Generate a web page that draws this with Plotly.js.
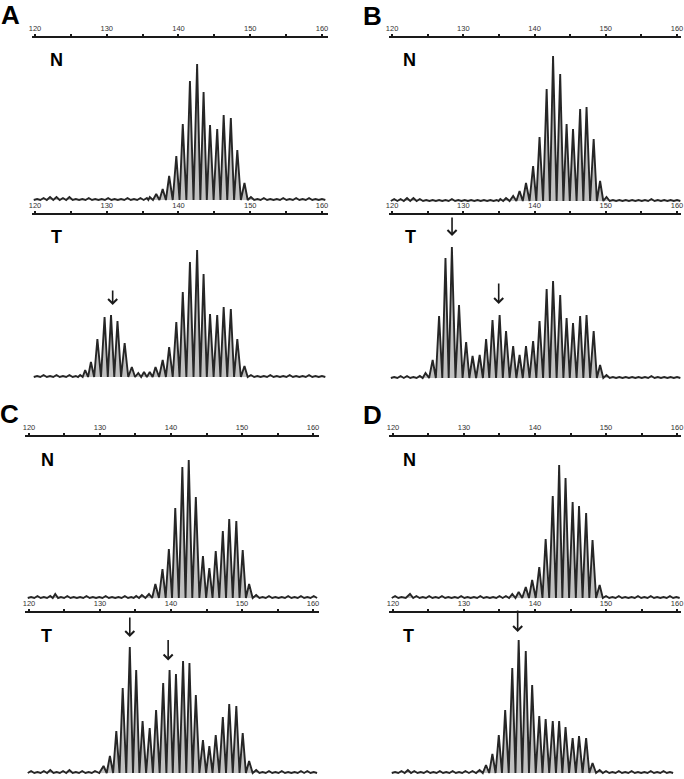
<!DOCTYPE html>
<html>
<head>
<meta charset="utf-8">
<script src="https://cdn.plot.ly/plotly-3.0.1.min.js"></script>
<style>html,body{margin:0;padding:0;background:#fff;}#chart{width:684px;height:779px;}</style>
</head>
<body>
<div id="chart"></div>
<script>
// ---- Data: peak positions (bp) and peak heights (relative fluorescence) ----
var tickVals = [120,125,130,135,140,145,150,155,160];
var tickText = ['120','','130','','140','','150','','160'];

// Panel A, normal (N)
var aN_bp = [120.3,121.2,122.1,123.0,123.9,124.8,125.7,126.6,127.5,128.4,129.3,130.2,131.1,132.0,132.9,133.8,134.7,135.6,136.0,
  136.9,137.8,138.7,139.7,140.6,141.6,142.6,143.5,144.4,145.4,146.3,147.3,148.2,149.2,150.1,
  151.0,151.9,152.8,153.7,154.6,155.5,156.4,157.3,158.2,159.1,160.0];
var aN_h  = [1,2,3,3,2,3,1,1,2,1,1,2,1,1,2,1,2,2,3,
  6,11,24,44,76,119,136,108,75,71,85,82,50,17,3,
  1,2,1,1,2,1,2,1,2,1,1];
// Panel A, tumour (T)
var aT_bp = [120.3,121.2,122.1,123.0,123.9,124.8,125.7,126.3,
  127.0,127.8,128.7,129.7,130.6,131.5,132.5,133.5,134.4,135.2,
  136.0,136.8,137.8,138.7,139.7,140.6,141.6,142.6,143.5,144.4,145.4,146.3,147.3,148.2,149.2,150.1,
  151.0,151.9,152.8,153.7,154.6,155.5,156.4,157.3,158.2,159.1,160.0];
var aT_h  = [1,2,1,2,1,2,1,2,
  7,15,38,60,62,56,34,10,4,5,
  5,10,17,30,55,85,115,127,103,63,62,70,68,38,11,2,
  1,1,2,1,1,2,1,1,2,1,1];
// Panel B, normal
var bN_bp = [120.3,121.2,122.1,123.0,123.9,124.8,125.7,126.6,127.5,128.4,129.3,130.2,131.1,132.0,132.9,133.8,134.7,135.2,
  136.0,137.0,137.9,138.8,139.8,140.7,141.7,142.6,143.6,144.5,145.4,146.4,147.3,148.3,149.2,150.1,
  151.0,151.9,152.8,153.7,154.6,155.5,156.4,157.3,158.2,159.1,160.0];
var bN_h  = [2,2,3,3,2,1,1,1,1,2,1,1,1,1,1,1,1,2,
  3,5,10,18,35,64,112,145,127,77,72,92,94,62,20,4,
  1,1,1,1,1,1,2,1,1,1,1];
// Panel B, tumour
var bT_bp = [120.3,121.2,122.1,123.0,123.9,
  124.7,125.7,126.6,127.5,128.4,129.4,130.4,131.3,132.3,133.2,134.1,135.1,136.0,137.0,137.9,138.8,139.8,
  140.7,141.7,142.6,143.6,144.5,145.4,146.4,147.3,148.3,149.2,150.1,
  151.0,151.9,152.8,153.7,154.6,155.5,156.4,157.3,158.2,159.1,160.0];
var bT_h  = [1,2,2,1,2,
  5,18,62,120,131,73,36,22,23,39,58,63,47,32,23,32,37,
  57,89,97,83,60,55,62,63,47,13,3,
  1,1,1,1,1,1,2,1,1,1,1];
// Panel C, normal
var cN_bp = [120.3,121.2,122.1,123.0,123.7,124.5,125.4,126.3,127.2,128.1,129.0,129.9,130.8,131.7,132.6,133.5,134.4,135.1,
  135.9,136.9,137.8,138.8,139.7,140.6,141.6,142.5,143.5,144.5,145.4,146.3,147.3,148.2,149.2,150.1,151.0,152.0,
  152.9,153.8,154.7,155.6,156.5,157.4,158.3,159.2,160.1];
var cN_h  = [1,2,1,2,4,1,2,1,1,2,1,1,2,1,1,2,1,2,
  3,4,14,29,49,90,131,138,101,42,30,47,67,79,77,48,14,3,
  1,2,1,1,2,1,2,1,2];
// Panel C, tumour
var cT_bp = [120.3,121.2,122.1,123.0,123.9,124.8,125.7,126.6,127.5,128.4,129.3,
  130.5,131.4,132.3,133.2,134.2,135.1,136.0,137.0,137.9,138.9,139.8,140.7,141.7,142.6,143.5,144.5,
  145.4,146.3,147.3,148.2,149.2,150.1,151.0,152.0,
  152.9,153.8,154.7,155.6,156.5,157.4,158.3,159.2,160.1];
var cT_h  = [2,1,2,3,1,2,3,1,2,1,2,
  7,17,42,85,126,103,52,45,63,90,103,99,112,110,78,33,
  27,38,56,69,67,40,12,3,
  1,2,1,2,1,1,2,2,1];
// Panel D, normal
var dN_bp = [120.3,121.2,122.4,123.3,124.2,125.1,126.0,126.9,127.8,128.7,129.6,130.5,131.4,132.3,133.2,134.1,135.0,135.9,
  136.8,137.7,138.7,139.6,140.6,141.5,142.5,143.4,144.3,145.3,146.2,147.2,148.1,149.1,150.0,
  150.9,151.8,152.7,153.6,154.5,155.4,156.3,157.2,158.1,159.0,159.9];
var dN_h  = [2,1,4,2,1,2,1,2,1,1,2,1,1,2,1,1,2,2,
  4,6,11,18,31,59,102,133,120,96,92,85,58,13,2,
  1,2,1,1,2,1,2,1,1,2,1];
// Panel D, tumour
var dT_bp = [120.3,121.2,122.1,123.0,123.9,124.8,125.7,126.6,127.5,128.4,129.3,130.2,131.2,
  132.2,133.1,134.0,134.9,135.8,136.8,137.7,138.7,139.6,140.6,141.5,142.5,143.4,144.3,145.3,146.2,147.2,148.1,149.1,
  150.0,150.9,151.8,152.7,153.6,154.5,155.4,156.3,157.2,158.1,159.0,159.9];
var dT_h  = [1,2,3,2,1,2,1,2,1,2,1,2,2,
  3,8,19,38,63,105,133,122,88,57,54,52,52,46,35,37,35,10,3,
  2,1,2,1,2,1,1,2,1,2,1];

// arrow targets (bp) on tumour traces
var arrowBp = {A:[130.83], B:[128.42,134.97], C:[134.2,139.6], D:[137.56]};

// ---- Layout geometry (pixels) ----
var W = 684, H = 779;
var panels = [
  {key:'aN', bp:aN_bp, h:aN_h, x0:32.1, x1:327.7, r:[119.6,160.8], top:38,  base:200},
  {key:'aT', bp:aT_bp, h:aT_h, x0:32.1, x1:327.7, r:[119.6,160.8], top:215, base:377},
  {key:'bN', bp:bN_bp, h:bN_h, x0:389.2, x1:681.3, r:[119.6,160.6], top:38,  base:201},
  {key:'bT', bp:bT_bp, h:bT_h, x0:389.2, x1:681.3, r:[119.6,160.6], top:215, base:378},
  {key:'cN', bp:cN_bp, h:cN_h, x0:24.7, x1:318.7, r:[119.4,160.8], top:437, base:598},
  {key:'cT', bp:cT_bp, h:cT_h, x0:24.7, x1:318.7, r:[119.4,160.8], top:613, base:773},
  {key:'dN', bp:dN_bp, h:dN_h, x0:388.7, x1:681.3, r:[119.4,160.6], top:437, base:598},
  {key:'dT', bp:dT_bp, h:dT_h, x0:388.7, x1:681.3, r:[119.4,160.6], top:613, base:773}
];

function spikes(bp, h){
  var x=[], y=[];
  x.push(bp[0]-0.47); y.push(0);
  for (var i=0;i<bp.length;i++){
    x.push(bp[i]); y.push(h[i]);
    var nx = (i<bp.length-1) ? (bp[i]+bp[i+1])/2 : bp[i]+0.47;
    x.push(nx); y.push(0);
  }
  return {x:x, y:y};
}

var data = [];
var layout = {
  width: W, height: H,
  margin: {l:0, r:0, t:0, b:0},
  paper_bgcolor: '#fff', plot_bgcolor: 'rgba(0,0,0,0)',
  showlegend: false,
  annotations: []
};

panels.forEach(function(p, i){
  var n = i+1, sfx = (n===1?'':n);
  var s = spikes(p.bp, p.h);
  data.push({
    type:'scatter', mode:'lines', x:s.x, y:s.y,
    xaxis:'x'+sfx, yaxis:'y'+sfx,
    fill:'tozeroy', fillcolor:'rgba(140,140,140,0.55)',
    line:{color:'#262626', width:1.9, shape:'linear'},
    hoverinfo:'skip'
  });
  var pad = 3;
  layout['xaxis'+sfx] = {
    domain:[p.x0/W, p.x1/W], range:p.r, anchor:'y'+sfx, side:'top',
    showline:true, linecolor:'#1a1a1a', linewidth:2.4,
    showgrid:false, zeroline:false,
    tickmode:'array', tickvals:tickVals, ticktext:tickText,
    ticks:'outside', ticklen:2, tickwidth:2, tickcolor:'#1a1a1a',
    tickfont:{family:'Liberation Sans, Arial, sans-serif', size:7.5, color:'#333'},
    ticklabelstandoff: 0,
    fixedrange:true
  };
  layout['yaxis'+sfx] = {
    domain:[1-(p.base+pad)/H, 1-p.top/H], range:[-pad, (p.base-p.top)],
    anchor:'x'+sfx, visible:false, fixedrange:true
  };
});

// Panel letters
var letters = [['A',10,15],['B',373,16],['C',9,414],['D',373,415]];
letters.forEach(function(l){
  layout.annotations.push({text:'<b>'+l[0]+'</b>', xref:'paper', yref:'paper',
    x:l[1]/W, y:1-l[2]/H, xanchor:'center', yanchor:'middle', showarrow:false,
    font:{family:'Liberation Sans, Arial, sans-serif', size:26, color:'#000'}});
});
// N / T labels
var nt = [['N',56,60],['T',56,237],['N',409.5,60],['T',410,237],['N',47,460],['T',46,636],['N',409,460],['T',408.5,636]];
nt.forEach(function(l){
  layout.annotations.push({text:'<b>'+l[0]+'</b>', xref:'paper', yref:'paper',
    x:l[1]/W, y:1-l[2]/H, xanchor:'center', yanchor:'middle', showarrow:false,
    font:{family:'Liberation Sans, Arial, sans-serif', size:18, color:'#000'}});
});
// Arrows: [bp, xaxis, head pixel y, tail offset]
var arrows = [
  [arrowBp.A[0], 'x2', 305, -16],
  [arrowBp.B[0], 'x4', 236, -20],
  [arrowBp.B[1], 'x4', 304, -22],
  [arrowBp.C[0], 'x6', 637, -21],
  [arrowBp.C[1], 'x6', 660.5, -22],
  [arrowBp.D[0], 'x8', 632, -23]
];
arrows.forEach(function(a){
  layout.annotations.push({text:'', xref:a[1], yref:'paper', x:a[0], y:1-a[2]/H,
    showarrow:true, axref:'pixel', ayref:'pixel', ax:0, ay:a[3],
    arrowhead:4, arrowsize:1.1, arrowwidth:1.6, arrowcolor:'#1a1a1a', standoff:0});
});

Plotly.newPlot('chart', data, layout, {displayModeBar:false, staticPlot:true});
</script>
</body>
</html>
